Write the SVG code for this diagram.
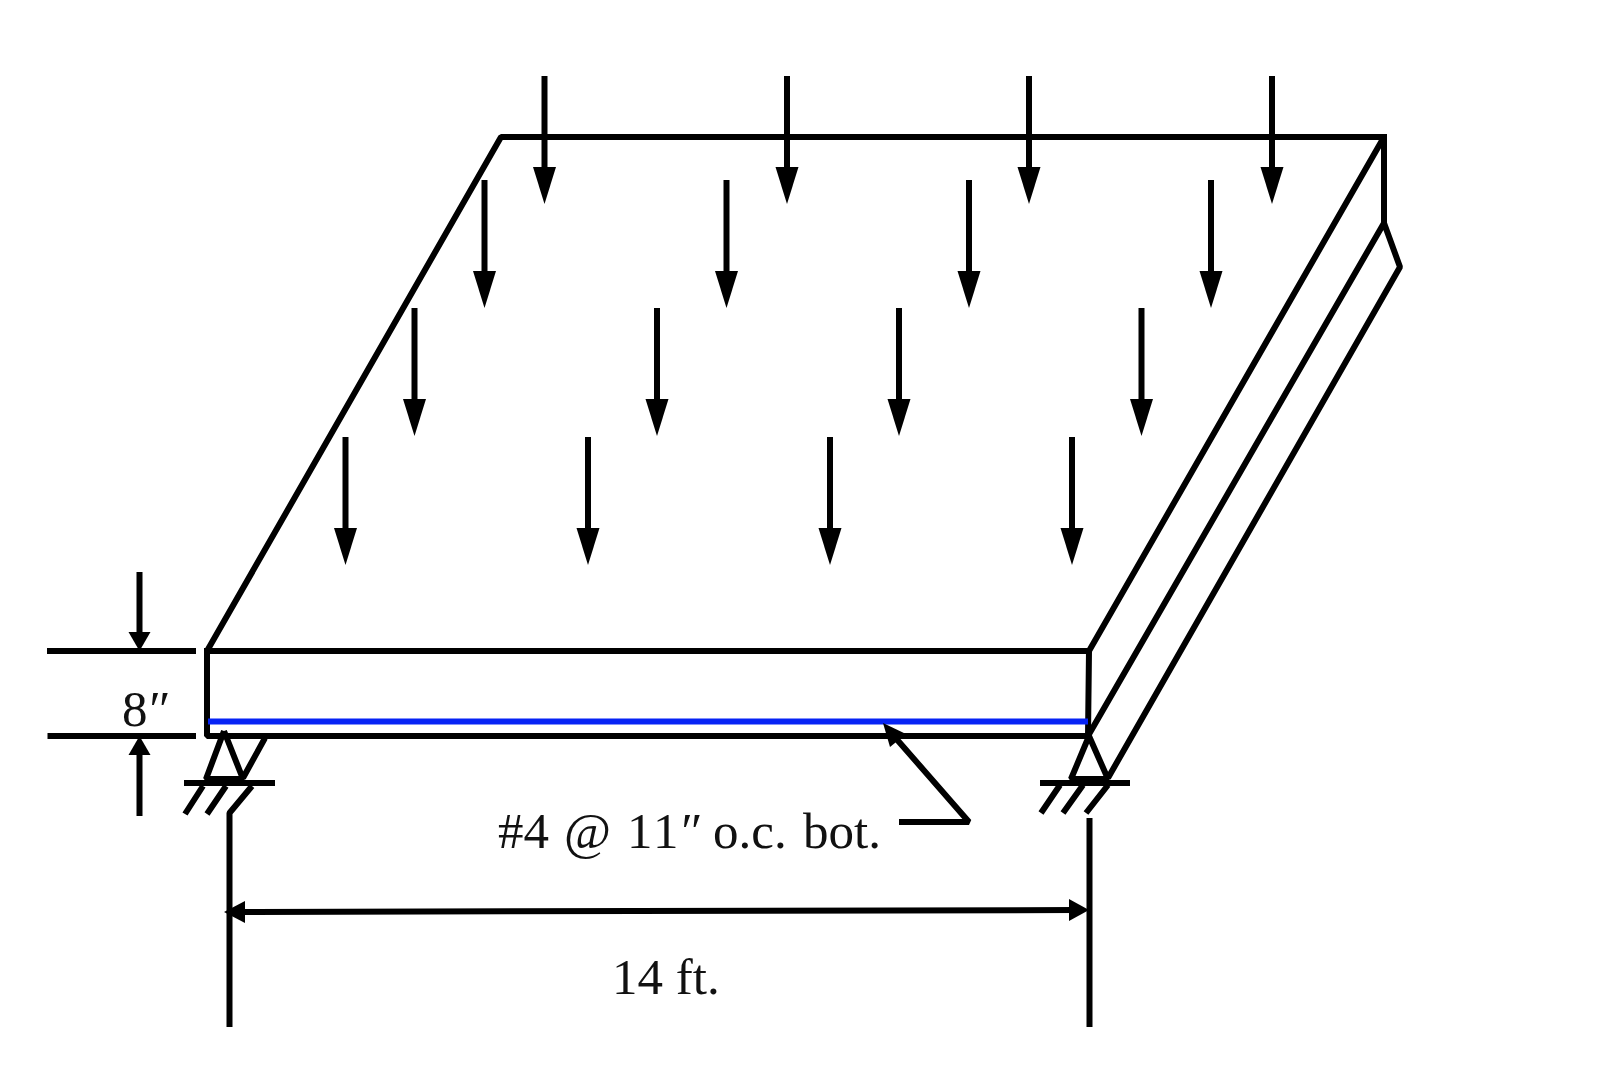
<svg xmlns="http://www.w3.org/2000/svg" width="1620" height="1087" viewBox="0 0 1620 1087">
<style>
.l{fill:none;stroke:#000;stroke-width:6;stroke-linejoin:bevel}
.t{font-family:"Liberation Serif","Times New Roman",serif;font-size:51px;fill:#111}
.i{font-style:italic}
</style>
<defs>
<g id="load"><line class="l" x1="0" y1="0" x2="0" y2="95"/><polygon points="-11.500,91 11.500,91 0,128"/></g>
<polygon id="head" points="-11,-19 11,-19 0,0"/>
</defs>
<rect width="1620" height="1087" fill="#fff"/>
<g id="slab">
<path class="l" d="M207 651L501 137H1387"/>
<path class="l" d="M207 651V736H1089"/>
<path class="l" d="M204 651H1089L1384 137V223M1089 651L1088 736"/>
<path class="l" d="M1088 736L1384 223L1400 267L1108 778"/>
</g>
<line id="rebar" x1="208" y1="721.500" x2="1088" y2="721.500" stroke="#0623f5" stroke-width="6"/>
<g id="support-left">
<path class="l" d="M224 731L206 779H243L224 731M265 738L243 778"/>
<path class="l" d="M184 783H275M203 786L185 814M226 786L207 814M252 786L229.500 813V1027"/>
</g>
<g id="support-right">
<path class="l" d="M1089 736L1071 779H1108L1089 736"/>
<path class="l" d="M1040 783H1130M1060 785L1041 813M1083 785L1063 813M1108 785L1086 813M1089.500 818V1027"/>
</g>
<g id="loads">
<use href="#load" x="544.500" y="76"/><use href="#load" x="787" y="76"/><use href="#load" x="1029" y="76"/><use href="#load" x="1272" y="76"/>
<use href="#load" x="484.500" y="180"/><use href="#load" x="726.500" y="180"/><use href="#load" x="969" y="180"/><use href="#load" x="1211" y="180"/>
<use href="#load" x="414.500" y="308"/><use href="#load" x="657" y="308"/><use href="#load" x="899" y="308"/><use href="#load" x="1141.500" y="308"/>
<use href="#load" x="345.500" y="437"/><use href="#load" x="588" y="437"/><use href="#load" x="830" y="437"/><use href="#load" x="1072" y="437"/>
</g>
<g id="dim-thickness">
<path class="l" d="M47 651H196M47.500 736H196M139.500 572V635M139.500 752V816"/>
<use href="#head" x="139.500" y="651"/>
<use href="#head" transform="translate(139.500 736) scale(1 -1)"/>
<text class="t" x="122" y="726">8<tspan class="i" x="146">″</tspan></text>
</g>
<g id="dim-span">
<line class="l" x1="240" y1="912" x2="1075" y2="910"/>
<polygon points="224,912 245,901 245,923"/>
<polygon points="1089,910 1069,899 1069,921"/>
<text class="t" x="612" y="994">14 ft.</text>
</g>
<g id="callout">
<path class="l" d="M899 822H969L893 735"/>
<polygon points="883,723 906,734 890,747"/>
<text class="t" x="498" y="848">#4<tspan x="564"> </tspan><tspan x="564">@</tspan><tspan x="627">1</tspan><tspan x="653">1</tspan><tspan class="i" x="678">″</tspan><tspan x="713">o.c.</tspan><tspan x="803">bot.</tspan></text>
</g>
</svg>
